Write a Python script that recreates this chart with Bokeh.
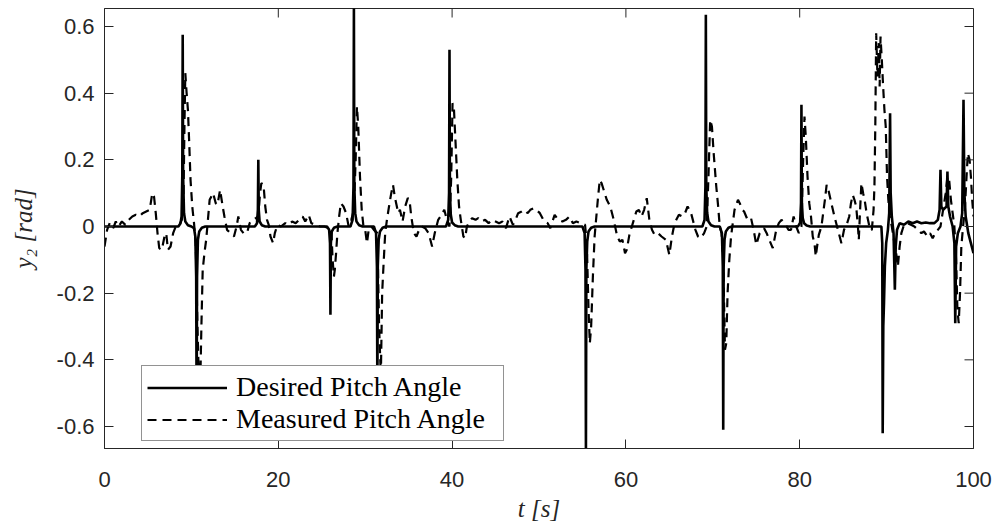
from bokeh.plotting import figure
from bokeh.models import FixedTicker, Legend, LegendItem, Range1d
from bokeh.embed import file_html
from bokeh.resources import INLINE

# ---------------- data ----------------
desired_t = [0, 8.5, 8.75, 8.87, 8.95, 9.0, 9.05, 9.15, 9.3, 9.6, 10.0,
             10.3, 10.45, 10.55, 10.6, 10.65, 10.75, 10.9, 11.2, 11.6,
             17.3, 17.55, 17.65, 17.7, 17.75, 17.85, 18.1, 18.5,
             25.6, 25.85, 25.95, 26.0, 26.05, 26.15, 26.4, 26.8,
             28.3, 28.55, 28.65, 28.7, 28.75, 28.85, 29.0, 29.3, 29.7,
             31.0, 31.25, 31.35, 31.4, 31.45, 31.55, 31.7, 32.0, 32.4,
             39.3, 39.55, 39.65, 39.7, 39.75, 39.85, 40.0, 40.3, 40.7,
             55.0, 55.25, 55.35, 55.4, 55.45, 55.55, 55.7, 56.0, 56.4,
             68.8, 69.05, 69.15, 69.2, 69.25, 69.35, 69.5, 69.8, 70.2,
             70.8, 71.05, 71.15, 71.2, 71.25, 71.35, 71.5, 71.8, 72.2,
             79.8, 80.05, 80.15, 80.2, 80.25, 80.35, 80.5, 80.8, 81.2,
             89.4, 89.5, 89.55, 89.62, 89.7, 89.8, 89.95, 90.15, 90.3, 90.4,
             90.47, 90.6, 90.8, 90.95, 91.05, 91.2, 91.5, 92.0, 92.5, 93.0,
             93.5, 94.0, 94.5, 95.0, 95.5, 95.9, 96.1, 96.2, 96.3, 96.5,
             96.9, 97.0, 97.1, 97.3, 97.6, 97.8, 97.9, 98.0, 98.2, 98.5,
             98.7, 98.85, 98.95, 99.1, 99.4, 99.7, 100.0]
desired_y = [0, 0, 0.01, 0.03, 0.15, 0.575, 0.15, 0.04, 0.015, 0.004, 0,
             -0.005, -0.03, -0.15, -0.55, -0.15, -0.04, -0.015, -0.004, 0,
             0, 0.01, 0.05, 0.2, 0.05, 0.015, 0.004, 0,
             0, -0.01, -0.05, -0.265, -0.05, -0.015, -0.004, 0,
             0, 0.02, 0.12, 0.66, 0.12, 0.04, 0.015, 0.004, 0,
             0, -0.02, -0.12, -0.5, -0.12, -0.04, -0.015, -0.004, 0,
             0, 0.02, 0.1, 0.53, 0.1, 0.035, 0.012, 0.004, 0,
             0, -0.02, -0.13, -0.68, -0.13, -0.045, -0.015, -0.004, 0,
             0, 0.02, 0.12, 0.635, 0.12, 0.04, 0.015, 0.004, 0,
             0, -0.02, -0.12, -0.61, -0.12, -0.04, -0.015, -0.004, 0,
             0, 0.012, 0.07, 0.365, 0.07, 0.025, 0.01, 0.003, 0,
             0, -0.05, -0.62, -0.3, -0.23, -0.12, -0.05, -0.01, 0.04, 0.34,
             0.1, 0.03, -0.02, -0.19, -0.06, -0.01, 0.01, 0.005, 0.015, 0.01,
             0.015, 0.01, 0.012, 0.01, 0.01, 0.02, 0.05, 0.17, 0.06, 0.05,
             0.06, 0.165, 0.06, 0.03, 0.0, -0.05, -0.29, -0.06, -0.02, 0.0,
             0.04, 0.38, 0.1, 0.03, -0.02, -0.05, -0.08]

measured_t = [0.0, 0.3, 0.6, 1.0, 1.3, 1.6, 2.0, 2.4, 2.8, 3.2, 3.6, 4.0, 4.4, 4.8,
              5.2, 5.5, 5.7, 5.9, 6.1, 6.3, 6.6, 6.9, 7.1, 7.3, 7.6, 7.9, 8.2, 8.6,
              8.9, 9.1, 9.2, 9.3, 9.45, 9.6, 9.75, 9.9, 10.1, 10.3, 10.5, 10.7,
              10.85, 11.0, 11.15, 11.3, 11.5, 11.7, 11.9, 12.1, 12.3, 12.5, 12.8,
              13.0, 13.3, 13.6, 13.8, 14.1, 14.5, 14.9, 15.2, 15.4, 15.7, 16.0,
              16.4, 16.7, 17.0, 17.4, 17.7, 17.9, 18.05, 18.3, 18.5, 18.7, 18.9,
              19.1, 19.4, 19.6, 19.9, 20.3, 20.8, 21.2, 21.6, 22.0, 22.4, 22.8,
              23.1, 23.5, 23.8, 24.3, 24.8, 25.3, 25.8, 26.1, 26.25, 26.4, 26.5,
              26.65, 26.8, 27.0, 27.2, 27.5, 27.8, 28.1, 28.4, 28.7, 28.9, 29.05,
              29.2, 29.4, 29.6, 29.8, 30.0, 30.2, 30.4, 30.7, 31.0, 31.4, 31.6,
              31.8, 31.95, 32.1, 32.3, 32.5, 32.8, 33.0, 33.2, 33.4, 33.6, 33.8,
              34.0, 34.3, 34.6, 34.9, 35.1, 35.3, 35.6, 35.9, 36.2, 36.5, 36.9,
              37.3, 37.7, 38.0, 38.4, 38.8, 39.1, 39.4, 39.7, 39.9, 40.05, 40.2,
              40.4, 40.6, 40.8, 41.0, 41.3, 41.5, 41.7, 42.0, 42.3, 42.7, 43.0,
              43.4, 43.8, 44.2, 44.6, 45.0, 45.4, 45.8, 46.2, 46.6, 47.0, 47.3,
              47.6, 48.0, 48.3, 48.7, 49.0, 49.4, 49.7, 50.1, 50.6, 51.0, 51.3,
              51.8, 52.2, 52.7, 53.1, 53.5, 53.9, 54.3, 54.8, 55.3, 55.5, 55.7,
              55.85, 56.0, 56.2, 56.4, 56.6, 56.8, 57.0, 57.2, 57.5, 57.8, 58.2,
              58.6, 59.0, 59.3, 59.6, 59.9, 60.1, 60.4, 60.8, 61.2, 61.5, 61.8,
              62.1, 62.4, 62.7, 63.0, 63.3, 63.7, 64.1, 64.6, 65.0, 65.3, 65.6,
              66.1, 66.5, 66.8, 67.1, 67.5, 68.0, 68.3, 68.6, 69.0, 69.3, 69.5,
              69.7, 69.9, 70.1, 70.4, 70.6, 70.8, 71.0, 71.2, 71.4, 71.55, 71.7,
              71.9, 72.1, 72.3, 72.5, 72.7, 72.9, 73.1, 73.4, 73.6, 74.0, 74.4,
              74.7, 75.0, 75.4, 75.9, 76.2, 76.5, 76.9, 77.3, 77.6, 77.9, 78.4,
              78.7, 79.0, 79.3, 79.6, 79.9, 80.2, 80.4, 80.55, 80.7, 80.9, 81.1,
              81.3, 81.5, 81.7, 81.85, 82.0, 82.2, 82.5, 82.7, 82.9, 83.1, 83.3,
              83.6, 84.0, 84.3, 84.6, 84.8, 85.1, 85.4, 85.7, 85.9, 86.1, 86.3,
              86.5, 86.7, 86.8, 86.95, 87.1, 87.3, 87.5, 87.7, 87.9, 88.1, 88.3,
              88.5, 88.6, 88.7, 88.8, 88.95, 89.1, 89.2, 89.3, 89.45, 89.6, 89.75,
              89.9, 90.05, 90.2, 90.35, 90.6, 90.9, 91.1, 91.3, 91.5, 91.7, 92.0,
              92.4, 92.8, 93.2, 93.6, 94.0, 94.3, 94.7, 95.0, 95.3, 95.6, 95.9,
              96.2, 96.5, 96.8, 97.0, 97.2, 97.4, 97.6, 97.8, 98.0, 98.15, 98.3,
              98.45, 98.6, 98.8, 99.0, 99.2, 99.35, 99.55, 99.7, 99.85, 100.0]
measured_y = [-0.06, -0.01, 0.01, -0.005, 0.015, 0.0, 0.015, 0.005, 0.02, 0.03, 0.035, 0.03, 0.04, 0.045,
              0.05, 0.10, 0.09, 0.04, -0.02, -0.065, -0.07, -0.03, -0.02, -0.07, -0.06, -0.02, 0.0, 0.005,
              0.02, 0.1, 0.3, 0.46, 0.4, 0.35, 0.25, 0.14, 0.06, 0.01, -0.05, -0.3,
              -0.45, -0.5, -0.3, -0.13, -0.08, -0.04, 0.02, 0.08, 0.09, 0.10, 0.07,
              0.065, 0.11, 0.06, 0.03, -0.01, -0.02, -0.03, 0.0, 0.03, -0.01, -0.02,
              -0.02, 0.01, 0.02, 0.025, 0.03, 0.1, 0.13, 0.125, 0.06, 0.02, 0.005,
              -0.03, -0.05, -0.02, 0.005, 0.0, 0.01, 0.005, 0.015, 0.01, 0.02, 0.03,
              0.015, 0.035, 0.01, 0.005, 0.0, 0.0, -0.005, -0.01, -0.1, -0.15, -0.13,
              -0.08, -0.02, 0.03, 0.07, 0.06, 0.04, 0.0, 0.02, 0.05, 0.2, 0.36,
              0.3, 0.15, 0.05, 0.0, -0.01, -0.05, -0.01, 0.0, -0.01, -0.02, -0.3,
              -0.45, -0.2, -0.12, -0.02, 0.02, 0.07, 0.1, 0.125, 0.09, 0.065, 0.04,
              0.05, 0.015, 0.06, 0.085, 0.08, 0.03, -0.02, -0.03, -0.01, 0.0, -0.005,
              -0.02, -0.06, -0.02, 0.02, 0.035, 0.05, 0.02, 0.0, 0.15, 0.37, 0.36,
              0.25, 0.14, 0.06, 0.02, -0.03, -0.035, 0.0, 0.015, 0.025, 0.02, 0.025,
              0.015, 0.02, 0.01, 0.02, 0.015, 0.01, 0.015, -0.005, 0.03, 0.005, 0.02,
              0.04, 0.045, 0.05, 0.04, 0.05, 0.055, 0.05, 0.04, 0.015, 0.01, -0.005,
              0.035, 0.02, 0.015, 0.02, 0.03, 0.01, 0.015, 0.01, 0.005, -0.05, -0.25,
              -0.35, -0.3, -0.15, -0.03, 0.03, 0.09, 0.14, 0.13, 0.105, 0.08, 0.06,
              0.02, -0.03, -0.045, -0.04, -0.08, -0.07, -0.025, 0.01, 0.045, 0.05, 0.03,
              0.05, 0.085, 0.02, -0.01, -0.025, -0.02, -0.03, -0.04, -0.085, -0.03, 0.01,
              0.035, 0.03, 0.04, 0.06, 0.04, -0.01, -0.03, -0.035, -0.02, 0.0, 0.15,
              0.32, 0.3, 0.22, 0.12, 0.065, 0.0, -0.02, -0.1, -0.37, -0.35, -0.2,
              -0.1, -0.03, 0.01, 0.05, 0.065, 0.08, 0.07, 0.05, 0.045, 0.02, 0.025,
              -0.01, -0.055, -0.02, -0.005, -0.02, -0.04, -0.065, -0.01, 0.01, 0.02, 0.005,
              -0.01, -0.01, 0.03, 0.0, -0.02, 0.0, 0.2, 0.33, 0.27, 0.15, 0.07,
              0.03, -0.03, -0.05, -0.09, -0.06, -0.025, 0.0, 0.04, 0.08, 0.125, 0.11,
              0.075, 0.03, 0.0, -0.03, -0.05, -0.01, 0.005, 0.03, 0.07, 0.095, 0.08,
              0.06, 0.0, -0.04, 0.05, 0.13, 0.1, 0.075, 0.04, 0.015, -0.01, -0.01,
              0.05, 0.12, 0.3, 0.58, 0.45, 0.55, 0.42, 0.57, 0.5, 0.42, 0.35,
              0.3, 0.15, 0.08, 0.03, 0.0, -0.05, -0.08, -0.12, -0.06, -0.02, 0.005,
              0.01, 0.005, 0.0, -0.01, -0.02, -0.015, -0.03, -0.02, -0.035, -0.02, -0.01,
              0.0, 0.05, 0.1, 0.15, 0.14, 0.08, 0.04, 0.0, -0.1, -0.25, -0.29,
              -0.2, -0.06, 0.0, 0.05, 0.15, 0.22, 0.2, 0.15, 0.08, 0.03]

x_ticks = [0, 20, 40, 60, 80, 100]
y_ticks = [-0.6, -0.4, -0.2, 0, 0.2, 0.4, 0.6]
y_tick_labels = ["-0.6", "-0.4", "-0.2", "0", "0.2", "0.4", "0.6"]
series_labels = ["Desired Pitch Angle", "Measured Pitch Angle"]

X_MIN, X_MAX = 0, 100
Y_MIN, Y_MAX = -0.666, 0.654

AX = "#262626"
W, H = 1001, 527
BL, BR, BT, BB = 104, 28, 8, 79

p = figure(width=W, height=H, output_backend="svg", toolbar_location=None,
           x_range=Range1d(X_MIN, X_MAX), y_range=Range1d(Y_MIN, Y_MAX),
           min_border_left=BL, min_border_right=BR, min_border_top=BT,
           min_border_bottom=BB)
p.background_fill_color = "white"
p.border_fill_color = "white"
p.outline_line_color = AX
p.outline_line_width = 1
p.xgrid.visible = False
p.ygrid.visible = False

r_des = p.line(desired_t, desired_y, line_color="black", line_width=2.6)
r_mea = p.line(measured_t, measured_y, line_color="black", line_width=2.2,
               line_dash="9 6")

# mirrored inward tick marks on the top and right edges (box on)
TICK_PX = 9
frame_w = W - BL - BR
frame_h = H - BT - BB
dy_tick = TICK_PX * (Y_MAX - Y_MIN) / frame_h
dx_tick = TICK_PX * (X_MAX - X_MIN) / frame_w
p.segment(x0=x_ticks, y0=[Y_MAX] * len(x_ticks), x1=x_ticks,
          y1=[Y_MAX - dy_tick] * len(x_ticks), line_color=AX, line_width=1)
p.segment(x0=[X_MAX] * len(y_ticks), y0=y_ticks, x1=[X_MAX - dx_tick] * len(y_ticks),
          y1=y_ticks, line_color=AX, line_width=1)

for ax in p.xaxis:
    ax.ticker = FixedTicker(ticks=x_ticks)
    ax.major_label_overrides = {v: str(v) for v in x_ticks}
    ax.axis_label = "t [s]"
    ax.major_label_standoff = 23
    ax.axis_label_standoff = 5
for ax in p.yaxis:
    ax.ticker = FixedTicker(ticks=y_ticks)
    ax.major_label_overrides = dict(zip(y_ticks, y_tick_labels))
    ax.axis_label = "y\u2082 [rad]"
    ax.major_label_standoff = 10
    ax.axis_label_standoff = 17

for ax in list(p.xaxis) + list(p.yaxis):
    ax.axis_line_color = AX
    ax.major_tick_line_color = AX
    ax.major_tick_in = TICK_PX
    ax.major_tick_out = 0
    ax.minor_tick_line_color = None
    ax.major_label_text_font = "Liberation Sans"
    ax.major_label_text_font_size = "22px"
    ax.major_label_text_color = AX
    ax.axis_label_text_font = "Liberation Serif"
    ax.axis_label_text_font_style = "italic"
    ax.axis_label_text_font_size = "25px"
    ax.axis_label_text_color = AX

legend = Legend(items=[LegendItem(label=series_labels[0], renderers=[r_des]),
                       LegendItem(label=series_labels[1], renderers=[r_mea])],
                location=(37, 7), orientation="vertical",
                label_text_font="Liberation Serif", label_text_font_size="28px",
                label_text_color="black",
                glyph_width=80, glyph_height=31, label_height=31,
                label_standoff=9, label_width=262, spacing=0, padding=5,
                margin=0, border_line_color=AX, border_line_width=1,
                background_fill_color="white", background_fill_alpha=1.0)
p.add_layout(legend)

open("out.html", "w").write(file_html(p, INLINE))
